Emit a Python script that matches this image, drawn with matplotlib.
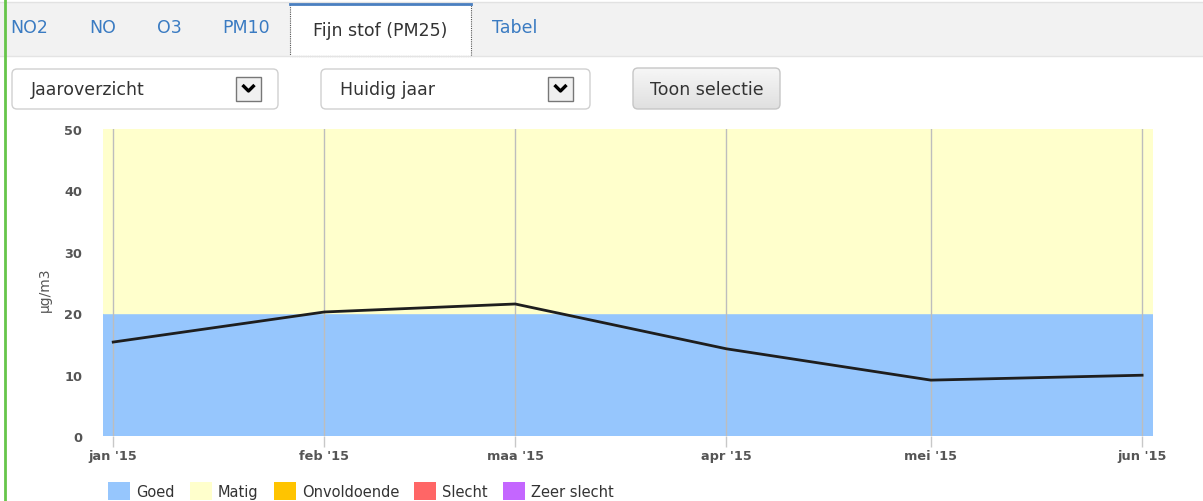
import datetime as dt
import numpy as np
import matplotlib
matplotlib.use("Agg")
import matplotlib.pyplot as plt
import matplotlib.dates as mdates
from matplotlib.patches import Rectangle, FancyBboxPatch, Patch

# data
months = [dt.date(2015, m, 1) for m in range(1, 7)]
month_labels = ["jan '15", "feb '15", "maa '15", "apr '15", "mei '15", "jun '15"]
pm25 = [15.3, 20.2, 21.5, 14.2, 9.1, 9.9]

band_edges = [0, 20, 50]
band_colors = ["#96c6fd", "#ffffcc"]

legend_labels = ["Goed", "Matig", "Onvoldoende", "Slecht", "Zeer slecht"]
legend_colors = ["#96c6fd", "#ffffcc", "#ffc400", "#ff6666", "#c466ff"]

tabs = ["NO2", "NO", "O3", "PM10"]
tab_x = [10, 89, 157, 222]
active_tab = "Fijn stof (PM25)"
dropdowns = ["Jaaroverzicht", "Huidig jaar"]

W, H = 1203, 502
fig = plt.figure(figsize=(W / 100, H / 100), dpi=100)
fig.patch.set_facecolor("white")

# page furniture drawn in pixel coordinates
ui = fig.add_axes([0, 0, 1, 1])
ui.set_xlim(0, W)
ui.set_ylim(H, 0)
ui.axis("off")

ui.add_patch(Rectangle((0, 3), W, 54, facecolor="#f2f2f2", edgecolor="none"))
ui.plot([0, W], [2.5, 2.5], color="#e2e2e2", lw=1)
ui.plot([0, W], [57, 57], color="#e4e4e4", lw=1)
ui.plot([5, 5], [0, H], color="#66c54a", lw=2)

for name, x in zip(tabs, tab_x):
    ui.text(x, 28, name, color="#3a7bc2", fontsize=12.5, ha="left", va="center")

ui.add_patch(Rectangle((290, 5), 181, 52, facecolor="white", edgecolor="#555555",
                       lw=0.8, linestyle=(0, (1, 1))))
ui.plot([290, 471], [4.5, 4.5], color="#4a7fc0", lw=2)
ui.text(380.5, 31, active_tab, color="#333333", fontsize=12.5, ha="center", va="center")
ui.text(492, 28, "Tabel", color="#3a7bc2", fontsize=12.5, ha="left", va="center")

for (x0, x1), label in zip([(12, 278), (321, 590)], dropdowns):
    ui.add_patch(FancyBboxPatch((x0, 70), x1 - x0, 40, boxstyle="round,pad=0,rounding_size=5",
                                facecolor="white", edgecolor="#d0d0d0", lw=1))
    ui.text(x0 + 19, 90, label, color="#333333", fontsize=12.5, ha="left", va="center")
    bx = x1 - 42
    ui.add_patch(Rectangle((bx, 78), 25, 24, facecolor="#f0f0f0", edgecolor="#777777", lw=1))
    ui.plot([bx + 6.5, bx + 12.5, bx + 18.5], [86, 92, 86], color="black", lw=2.4,
            solid_capstyle="butt")

# button with a soft vertical gradient
btn = FancyBboxPatch((633, 69), 147, 41, boxstyle="round,pad=0,rounding_size=5",
                     facecolor="none", edgecolor="#c6c6c6", lw=1, zorder=3)
ui.add_patch(btn)
grad = np.linspace(0.965, 0.875, 64).reshape(-1, 1)
im = ui.imshow(grad, extent=(633, 780, 110, 69), cmap="gray", vmin=0, vmax=1,
               aspect="auto", zorder=2)
im.set_clip_path(btn)
ui.set_xlim(0, W)
ui.set_ylim(H, 0)
ui.text(706.5, 90, "Toon selectie", color="#333333", fontsize=12.5, ha="center",
        va="center", zorder=4)

# chart
ax = fig.add_axes([103 / W, 1 - 437 / H, 1050 / W, 307 / H])
ax.set_zorder(2)
for lo, hi, c in zip(band_edges[:-1], band_edges[1:], band_colors):
    ax.axhspan(lo, hi, color=c, zorder=0)
ax.plot(months, pm25, color="#1e1e1e", lw=2, zorder=3)

ax.set_xlim(mdates.date2num(months[0]) - 1.5, mdates.date2num(months[-1]) + 1.6)
ax.set_ylim(0, 50)
ax.set_xticks(months)
ax.set_xticklabels(month_labels)
ax.set_yticks(range(0, 51, 10))
ax.grid(axis="x", color="#bdbdbd", lw=1, zorder=1)
ax.grid(axis="y", visible=False)
for s in ax.spines.values():
    s.set_visible(False)
ax.tick_params(axis="x", length=8, color="#c8c8c8", width=1, pad=1.5,
               labelsize=9.3, labelcolor="#555555")
ax.tick_params(axis="y", length=0, pad=15, labelsize=9.3, labelcolor="#555555")
for t in ax.get_xticklabels() + ax.get_yticklabels():
    t.set_fontweight("bold")

fig.text(45 / W, 1 - 290 / H, "µg/m3", rotation=90, ha="center", va="center",
         color="#555555", fontsize=10)

handles = [Patch(facecolor=c, edgecolor="none") for c in legend_colors]
leg = fig.legend(handles, legend_labels, loc="upper left", ncol=5,
                 bbox_to_anchor=(108 / W, 1 - 483 / H), frameon=False, fontsize=10.5,
                 handlelength=1.5, handleheight=1.5, handletextpad=0.42,
                 columnspacing=1.05, borderpad=0, borderaxespad=0)
for t in leg.get_texts():
    t.set_color("#333333")

fig.savefig("out.png", dpi=100)
